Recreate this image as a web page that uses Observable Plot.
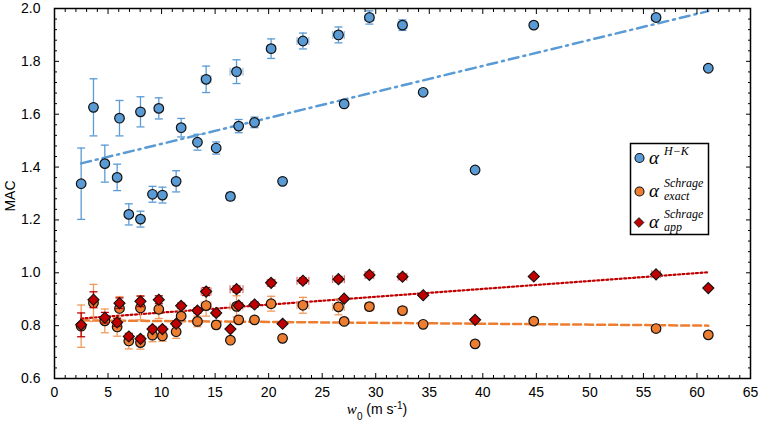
<!DOCTYPE html>
<html>
<head>
<meta charset="utf-8">
<script src="https://cdn.jsdelivr.net/npm/d3@7"></script>
<script src="https://cdn.jsdelivr.net/npm/@observablehq/plot@0.6"></script>
<style>
  html, body { margin: 0; padding: 0; background: #fff; }
  #chart { position: relative; width: 761px; height: 426px; }
</style>
</head>
<body>
<div id="chart"></div>
<script>
// ---- data ----
const w0 = [2.49, 3.64, 4.70, 5.85, 6.07, 6.94, 8.03, 8.03, 9.15, 9.74, 10.08, 11.36, 11.83, 13.35, 14.16, 15.10,
            16.43, 17.00, 17.20, 18.68, 20.23, 21.30, 23.20, 26.52, 27.05, 29.41, 32.50, 34.43, 39.28, 44.76, 56.18, 61.06];
const errW0 = [0, 0, 0, 0, 0, 0, 0, 0, 0, 0, 0, 0, 0, 0, 0.45, 0,
               0, 0.6, 0, 0, 0.35, 0, 0.55, 0.55, 0, 0.4, 0.4, 0, 0, 0, 0.4, 0];
const macHK = [1.337, 1.626, 1.413, 1.361, 1.585, 1.221, 1.609, 1.203, 1.297, 1.622, 1.294, 1.346, 1.549, 1.494, 1.732, 1.472,
               1.289, 1.761, 1.555, 1.569, 1.848, 1.346, 1.877, 1.900, 1.639, 1.966, 1.937, 1.683, 1.389, 1.937, 1.966, 1.774];
const errHK = [0.135, 0.108, 0.07, 0.05, 0.067, 0.04, 0.057, 0.03, 0.03, 0.04, 0.03, 0.04, 0.035, 0.03, 0.05, 0.023,
               0.015, 0.045, 0.025, 0.02, 0.037, 0, 0.03, 0.03, 0, 0.025, 0.02, 0, 0, 0, 0.01, 0];
const macExact = [0.798, 0.886, 0.818, 0.795, 0.865, 0.742, 0.867, 0.736, 0.764, 0.862, 0.761, 0.777, 0.836, 0.816, 0.876, 0.803,
                  0.745, 0.873, 0.822, 0.822, 0.883, 0.752, 0.877, 0.871, 0.816, 0.872, 0.857, 0.805, 0.731, 0.817, 0.789, 0.765];
const errExact = [0.08, 0.07, 0.045, 0.035, 0.045, 0.03, 0.045, 0.025, 0.025, 0.035, 0.02, 0.025, 0.02, 0.02, 0.04, 0.015,
                  0, 0.04, 0.015, 0.01, 0.028, 0, 0.03, 0.03, 0, 0.015, 0.01, 0, 0, 0, 0, 0];
const macApp = [0.803, 0.898, 0.830, 0.812, 0.885, 0.759, 0.892, 0.750, 0.787, 0.898, 0.787, 0.807, 0.875, 0.857, 0.929, 0.848,
                0.787, 0.938, 0.876, 0.880, 0.962, 0.807, 0.970, 0.976, 0.902, 0.992, 0.985, 0.915, 0.822, 0.986, 0.994, 0.942];
const errApp = [0.045, 0.03, 0.02, 0.015, 0.02, 0.01, 0.02, 0.01, 0.01, 0.015, 0.01, 0.01, 0.01, 0.01, 0.015, 0.01,
                0, 0.012, 0.01, 0.01, 0.012, 0, 0.01, 0.01, 0, 0.01, 0.01, 0, 0, 0, 0, 0];
const trendX = [2.49, 61.06];
const trendHK = [1.414, 1.990];
const trendExact = [0.820, 0.800];
const trendApp = [0.827, 1.002];
const xTicks = [0, 5, 10, 15, 20, 25, 30, 35, 40, 45, 50, 55, 60, 65];
const yTicks = [0.6, 0.8, 1.0, 1.2, 1.4, 1.6, 1.8, 2.0];

// ---- build tables ----
const rows = w0.map((x, i) => ({x, ew: errW0[i], hk: macHK[i], ehk: errHK[i], ex: macExact[i], eex: errExact[i], ap: macApp[i], eap: errApp[i]}));
const trend = (ys) => trendX.map((x, i) => ({x, y: ys[i]}));
const xMinor = d3.range(0, 66, 1).filter(v => v % 5 !== 0);
const yMinor = d3.range(0, 36).map(i => +(0.6 + i * 0.04).toFixed(2)).filter(v => Math.abs(v * 5 - Math.round(v * 5)) > 1e-6);

const hcap = {draw(ctx, size) { const r = Math.sqrt(size / Math.PI); ctx.moveTo(-r, 0); ctx.lineTo(r, 0); }};
const vcap = {draw(ctx, size) { const r = Math.sqrt(size / Math.PI); ctx.moveTo(0, -r); ctx.lineTo(0, r); }};

const BLUE = "#5B9BD5", ORANGE = "#ED7D31", RED = "#C00000";

function errorBars(key, ekey, color, hcolor) {
  const v = rows.filter(d => d[ekey] > 0);
  const h = rows.filter(d => d.ew > 0);
  return [
    Plot.ruleX(v, {x: "x", y1: d => d[key] - d[ekey], y2: d => d[key] + d[ekey], stroke: color, strokeWidth: 1.3}),
    Plot.dot(v, {x: "x", y: d => d[key] - d[ekey], symbol: hcap, r: 4, stroke: color, fill: "none", strokeWidth: 1.3}),
    Plot.dot(v, {x: "x", y: d => d[key] + d[ekey], symbol: hcap, r: 4, stroke: color, fill: "none", strokeWidth: 1.3}),
    Plot.ruleY(h, {y: key, x1: d => d.x - d.ew, x2: d => d.x + d.ew, stroke: hcolor, strokeWidth: 1.3}),
    Plot.dot(h, {x: d => d.x - d.ew, y: key, symbol: vcap, r: 4, stroke: hcolor, fill: "none", strokeWidth: 1.3}),
    Plot.dot(h, {x: d => d.x + d.ew, y: key, symbol: vcap, r: 4, stroke: hcolor, fill: "none", strokeWidth: 1.3})
  ];
}

const noText = () => "";
const plot = Plot.plot({
  width: 761,
  height: 426,
  marginLeft: 54,
  marginRight: 11,
  marginTop: 8,
  marginBottom: 48,
  x: {domain: [0, 65]},
  y: {domain: [0.6, 2.0]},
  style: {fontFamily: "'Liberation Sans', Arial, sans-serif", fontSize: "14px", color: "#000", background: "#fff"},
  marks: [
    // trend lines
    Plot.line(trend(trendHK), {x: "x", y: "y", stroke: BLUE, strokeWidth: 2.5, strokeDasharray: "10,5,2,5"}),
    Plot.line(trend(trendExact), {x: "x", y: "y", stroke: ORANGE, strokeWidth: 2.5, strokeDasharray: "8,4"}),
    Plot.line(trend(trendApp), {x: "x", y: "y", stroke: RED, strokeWidth: 2.2, strokeDasharray: "2,2.5"}),
    // error bars
    ...errorBars("hk", "ehk", BLUE, "#9DC3E6"),
    ...errorBars("ex", "eex", "#F19A5C", "#F4B183"),
    // points
    Plot.dot(rows, {x: "x", y: "hk", r: 4.8, fill: BLUE, stroke: "#111", strokeWidth: 1.2}),
    Plot.dot(rows, {x: "x", y: "ex", r: 4.8, fill: ORANGE, stroke: "#111", strokeWidth: 1.2}),
    ...errorBars("ap", "eap", RED, "#E57373"),
    Plot.dot(rows, {x: "x", y: "ap", r: 5, symbol: "diamond2", fill: RED, stroke: "#111", strokeWidth: 1.1}),
    // axes (ticks inward)
    Plot.axisX(xTicks, {anchor: "bottom", tickSize: -5, tickPadding: 14, label: null, fontSize: 14}),
    Plot.axisX(xMinor, {anchor: "bottom", tickSize: -3, tickFormat: noText, label: null}),
    Plot.axisX(xTicks, {anchor: "top", tickSize: -5, tickFormat: noText, label: null}),
    Plot.axisX(xMinor, {anchor: "top", tickSize: -3, tickFormat: noText, label: null}),
    Plot.axisY(yTicks, {anchor: "left", tickSize: -5, tickPadding: 19, tickFormat: d3.format(".1f"), label: null, fontSize: 14}),
    Plot.axisY(yMinor, {anchor: "left", tickSize: -3, tickFormat: noText, label: null}),
    Plot.axisY(yTicks, {anchor: "right", tickSize: -5, tickFormat: noText, label: null}),
    Plot.axisY(yMinor, {anchor: "right", tickSize: -3, tickFormat: noText, label: null}),
    Plot.frame({stroke: "#000", strokeWidth: 1.5})
  ]
});
document.getElementById("chart").appendChild(plot);

// ---- labels and legend ----
const svg = d3.select(plot);
svg.append("text").attr("transform", "translate(15,196) rotate(-90)").attr("text-anchor", "middle")
  .attr("font-family", "'Liberation Sans', Arial, sans-serif").attr("font-size", 14).text("MAC");

const xl = svg.append("text").attr("x", 377).attr("y", 414).attr("text-anchor", "middle")
  .attr("font-family", "'Liberation Sans', Arial, sans-serif").attr("font-size", 14);
xl.append("tspan").attr("font-style", "italic").attr("font-family", "'Liberation Serif', serif").attr("font-size", 15).text("w");
xl.append("tspan").attr("baseline-shift", "sub").attr("font-size", 10).text("0");
xl.append("tspan").text(" (m s");
xl.append("tspan").attr("baseline-shift", "super").attr("font-size", 10).text("-1");
xl.append("tspan").text(")");

const lg = svg.append("g").attr("font-family", "'Liberation Serif', 'DejaVu Serif', serif")
  .attr("font-style", "italic").attr("text-anchor", "start").attr("fill", "#000");
lg.append("rect").attr("x", 630.5).attr("y", 143.5).attr("width", 78).attr("height", 91)
  .attr("fill", "#fff").attr("stroke", "#000").attr("stroke-width", 1.5);
lg.append("circle").attr("cx", 639.5).attr("cy", 158).attr("r", 4.5).attr("fill", BLUE).attr("stroke", "#111").attr("stroke-width", 1.1);
lg.append("circle").attr("cx", 639.5).attr("cy", 191.5).attr("r", 4.5).attr("fill", ORANGE).attr("stroke", "#111").attr("stroke-width", 1.1);
lg.append("path").attr("d", d3.symbol(d3.symbolDiamond2, 60)()).attr("transform", "translate(639,222.5)")
  .attr("fill", RED).attr("stroke", "#111").attr("stroke-width", 1);
const entries = [
  {y: 164, sup: "H\u2212K", supY: 155, sub: null, subY: 0},
  {y: 197, sup: "Schrage", supY: 187, sub: "exact", subY: 200},
  {y: 228, sup: "Schrage", supY: 218, sub: "app", subY: 231}
];
entries.forEach(e => {
  lg.append("text").attr("x", 649).attr("y", e.y).attr("font-size", 19).text("\u03b1");
  lg.append("text").attr("x", 664).attr("y", e.supY).attr("font-size", 12).text(e.sup);
  if (e.sub) lg.append("text").attr("x", 664).attr("y", e.subY).attr("font-size", 12).text(e.sub);
});
</script>
</body>
</html>
